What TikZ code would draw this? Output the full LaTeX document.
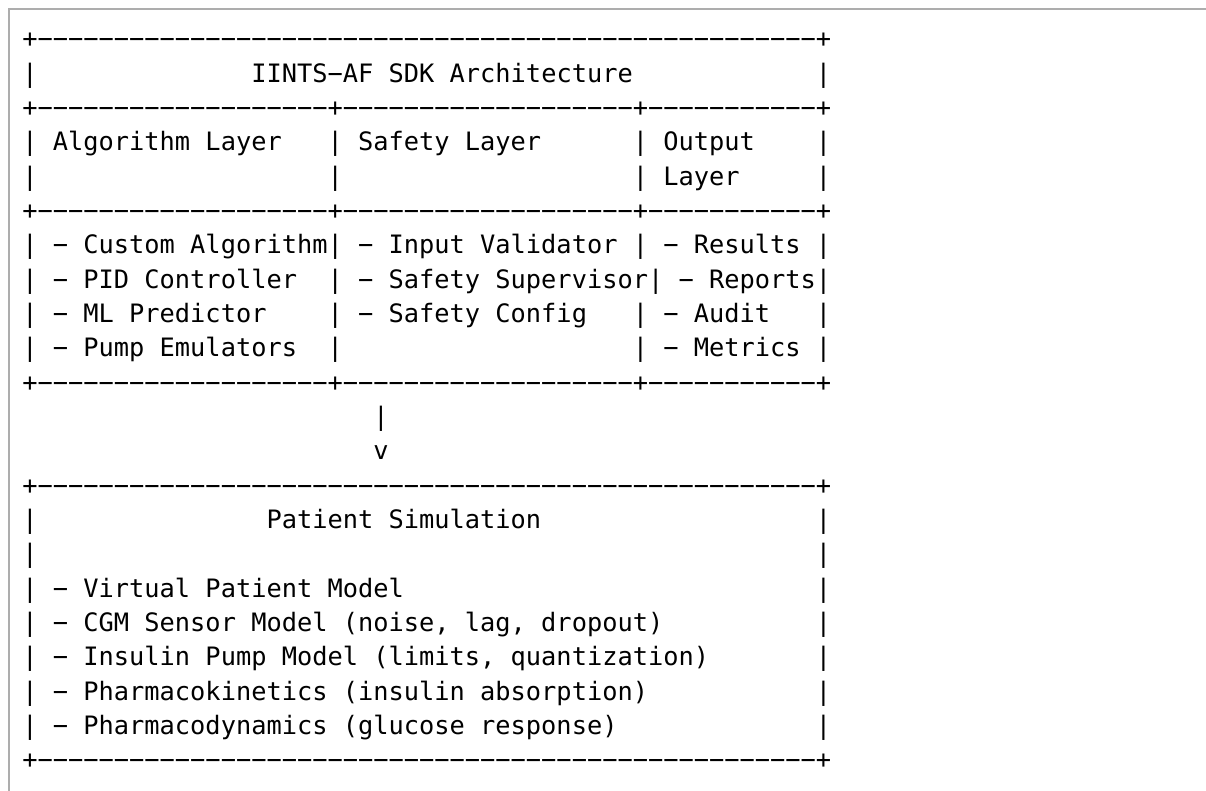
\documentclass[tikz,border=0pt]{standalone}
\usepackage{fontspec}
\setmonofont{DejaVu Sans Mono}
\begin{document}
\begin{tikzpicture}[x=1pt,y=-1pt,
  txt/.style={anchor=base west, inner sep=0pt, outer sep=0pt,
    font=\ttfamily\fontsize{25.35}{25.35}\selectfont\frenchspacing, text=black},
  frame/.style={draw=black!32, line width=1.5pt}]
\useasboundingbox (0,0) rectangle (1206,791);
\draw[frame] (9,791) -- (9,9) -- (1206,9);
\def\cx{22.37}
\def\cw{15.26}
\def\by{47.9}
\def\lh{34.33}
% top box
\node[txt] (l0)  at (\cx,\by+0*\lh)  {+−−−−−−−−−−−−−−−−−−−−−−−−−−−−−−−−−−−−−−−−−−−−−−−−−−−+};
\node[txt] (l1)  at (\cx,\by+1*\lh)  {|~~~~~~~~~~~~~~IINTS−AF~SDK~Architecture~~~~~~~~~~~~|};
\node[txt] (l2)  at (\cx,\by+2*\lh)  {+−−−−−−−−−−−−−−−−−−−+−−−−−−−−−−−−−−−−−−−+−−−−−−−−−−−+};
\node[txt] (l3)  at (\cx,\by+3*\lh)  {|~Algorithm~Layer~~~|~Safety~Layer~~~~~~|~Output~~~~|};
\node[txt] (l4)  at (\cx,\by+4*\lh)  {|~~~~~~~~~~~~~~~~~~~|~~~~~~~~~~~~~~~~~~~|~Layer~~~~~|};
\node[txt] (l5)  at (\cx,\by+5*\lh)  {+−−−−−−−−−−−−−−−−−−−+−−−−−−−−−−−−−−−−−−−+−−−−−−−−−−−+};
\node[txt] (l6)  at (\cx,\by+6*\lh)  {|~−~Custom~Algorithm|~−~Input~Validator~|~−~Results~|};
\node[txt] (l7)  at (\cx,\by+7*\lh)  {|~−~PID~Controller~~|~−~Safety~Supervisor|~−~Reports|};
\node[txt] (l8)  at (\cx,\by+8*\lh)  {|~−~ML~Predictor~~~~|~−~Safety~Config~~~|~−~Audit~~~|};
\node[txt] (l9)  at (\cx,\by+9*\lh)  {|~−~Pump~Emulators~~|~~~~~~~~~~~~~~~~~~~|~−~Metrics~|};
\node[txt] (l10) at (\cx,\by+10*\lh) {+−−−−−−−−−−−−−−−−−−−+−−−−−−−−−−−−−−−−−−−+−−−−−−−−−−−+};
% arrow
\node[txt] (l11) at (\cx+23*\cw,\by+11*\lh) {|};
\node[txt] (l12) at (\cx+23*\cw,\by+12*\lh) {v};
% bottom box
\node[txt] (l13) at (\cx,\by+13*\lh) {+−−−−−−−−−−−−−−−−−−−−−−−−−−−−−−−−−−−−−−−−−−−−−−−−−−−+};
\node[txt] (l14) at (\cx,\by+14*\lh) {|~~~~~~~~~~~~~~~Patient~Simulation~~~~~~~~~~~~~~~~~~|};
\node[txt] (l15) at (\cx,\by+15*\lh) {|~~~~~~~~~~~~~~~~~~~~~~~~~~~~~~~~~~~~~~~~~~~~~~~~~~~|};
\node[txt] (l16) at (\cx,\by+16*\lh) {|~−~Virtual~Patient~Model~~~~~~~~~~~~~~~~~~~~~~~~~~~|};
\node[txt] (l17) at (\cx,\by+17*\lh) {|~−~CGM~Sensor~Model~(noise,~lag,~dropout)~~~~~~~~~~|};
\node[txt] (l18) at (\cx,\by+18*\lh) {|~−~Insulin~Pump~Model~(limits,~quantization)~~~~~~~|};
\node[txt] (l19) at (\cx,\by+19*\lh) {|~−~Pharmacokinetics~(insulin~absorption)~~~~~~~~~~~|};
\node[txt] (l20) at (\cx,\by+20*\lh) {|~−~Pharmacodynamics~(glucose~response)~~~~~~~~~~~~~|};
\node[txt] (l21) at (\cx,\by+21*\lh) {+−−−−−−−−−−−−−−−−−−−−−−−−−−−−−−−−−−−−−−−−−−−−−−−−−−−+};
\end{tikzpicture}
\end{document}
